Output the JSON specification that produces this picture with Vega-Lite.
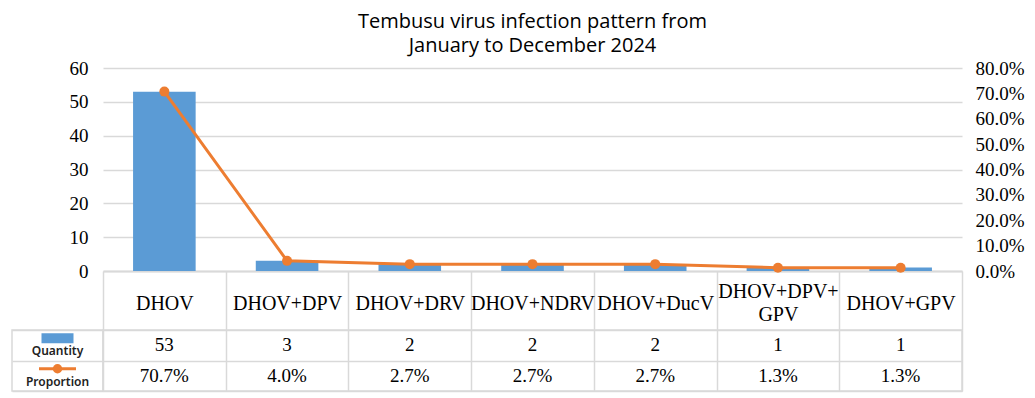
{
  "$schema": "https://vega.github.io/schema/vega-lite/v6.json",
  "padding": {"left": 11, "top": 12, "right": 5, "bottom": 4},
  "background": "white",
  "datasets": {
    "infection": [
      {"Pattern": "DHOV", "Quantity": 53, "Proportion": 0.707},
      {"Pattern": "DHOV+DPV", "Quantity": 3, "Proportion": 0.040},
      {"Pattern": "DHOV+DRV", "Quantity": 2, "Proportion": 0.027},
      {"Pattern": "DHOV+NDRV", "Quantity": 2, "Proportion": 0.027},
      {"Pattern": "DHOV+DucV", "Quantity": 2, "Proportion": 0.027},
      {"Pattern": "DHOV+DPV+GPV", "Quantity": 1, "Proportion": 0.013},
      {"Pattern": "DHOV+GPV", "Quantity": 1, "Proportion": 0.013}
    ],
    "series": [
      {"series": "Quantity"},
      {"series": "Proportion"}
    ]
  },
  "columns": 2,
  "spacing": {"row": 59, "column": 0},
  "bounds": "flush",
  "concat": [
    {
      "width": 91,
      "height": 203,
      "data": {"values": []},
      "mark": "point",
      "encoding": {}
    },
    {
      "width": 859,
      "height": 203,
      "title": {
        "text": ["Tembusu virus infection pattern from", "January to December 2024"],
        "font": "Open Sans",
        "fontSize": 20,
        "fontWeight": "normal",
        "color": "#000000",
        "lineHeight": 24,
        "anchor": "middle",
        "offset": 3
      },
      "data": {"name": "infection"},
      "encoding": {
        "x": {
          "field": "Pattern",
          "type": "nominal",
          "sort": null,
          "scale": {"paddingInner": 0, "paddingOuter": 0},
          "axis": {
            "title": null,
            "orient": "bottom",
            "domain": true,
            "domainColor": "#d9d9d9",
            "domainWidth": 2,
            "ticks": true,
            "tickBand": "extent",
            "tickSize": 59,
            "tickColor": "#d9d9d9",
            "tickWidth": 1.5,
            "grid": false,
            "labelAngle": 0,
            "labelFont": "Liberation Serif",
            "labelFontSize": 20,
            "labelColor": "#000000",
            "labelBaseline": "middle",
            "labelPadding": {"condition": {"test": "datum.value == 'DHOV+DPV+GPV'", "value": -39}, "value": -27},
            "labelOverlap": false,
            "labelLimit": 0,
            "labelBound": false,
            "labelFlush": false,
            "labelLineHeight": 23,
            "labelExpr": "datum.label == 'DHOV+DPV+GPV' ? ['DHOV+DPV+', 'GPV'] : datum.label"
          }
        }
      },
      "layer": [
        {
          "mark": {"type": "bar", "color": "#5b9bd5", "width": {"band": 0.51}},
          "encoding": {
            "y": {
              "field": "Quantity",
              "type": "quantitative",
              "scale": {"domain": [0, 60]},
              "axis": {
                "title": null,
                "orient": "left",
                "values": [0, 10, 20, 30, 40, 50, 60],
                "domain": false,
                "ticks": false,
                "grid": true,
                "gridColor": "#d9d9d9",
                "gridWidth": 1.5,
                "labelFont": "Liberation Serif",
                "labelFontSize": 19,
                "labelColor": "#000000",
                "labelPadding": 15
              }
            }
          }
        },
        {
          "encoding": {
            "y": {
              "field": "Proportion",
              "type": "quantitative",
              "scale": {"domain": [0, 0.8]},
              "axis": {
                "title": null,
                "orient": "right",
                "values": [0, 0.1, 0.2, 0.3, 0.4, 0.5, 0.6, 0.7, 0.8],
                "format": ".1%",
                "domain": false,
                "ticks": false,
                "grid": false,
                "labelFont": "Liberation Serif",
                "labelFontSize": 19,
                "labelColor": "#000000",
                "labelPadding": 13
              }
            }
          },
          "layer": [
            {"mark": {"type": "line", "color": "#ed7d31", "strokeWidth": 3}},
            {"mark": {"type": "point", "filled": true, "size": 100, "color": "#ed7d31", "opacity": 1}}
          ]
        }
      ],
      "resolve": {"scale": {"y": "independent"}, "axis": {"y": "independent"}}
    },
    {
      "width": 91,
      "height": 61,
      "view": {"stroke": "#d9d9d9", "strokeWidth": 1.5},
      "data": {"name": "series"},
      "encoding": {
        "y": {
          "field": "series",
          "type": "nominal",
          "sort": null,
          "scale": {"domain": ["Quantity", "Proportion"], "paddingInner": 0, "paddingOuter": 0},
          "axis": {
            "title": null,
            "labels": false,
            "ticks": false,
            "domain": false,
            "grid": true,
            "tickBand": "extent",
            "gridColor": "#d9d9d9",
            "gridWidth": 1.5
          }
        }
      },
      "layer": [
        {
          "mark": {"type": "text", "font": "Noto Sans", "fontSize": 12, "fontWeight": 600, "color": "#222222", "dy": 6},
          "encoding": {"text": {"field": "series"}}
        },
        {
          "transform": [{"filter": "datum.series == 'Quantity'"}],
          "mark": {"type": "point", "shape": "M-1,-0.31H1V0.31H-1Z", "size": 1024, "filled": true, "color": "#5b9bd5", "opacity": 1, "yOffset": -7},
          "encoding": {}
        },
        {
          "transform": [{"filter": "datum.series == 'Proportion'"}],
          "mark": {"type": "point", "shape": "stroke", "size": 1369, "filled": false, "stroke": "#ed7d31", "strokeWidth": 3, "opacity": 1, "yOffset": -7},
          "encoding": {}
        },
        {
          "transform": [{"filter": "datum.series == 'Proportion'"}],
          "mark": {"type": "point", "shape": "circle", "size": 90, "filled": true, "color": "#ed7d31", "opacity": 1, "yOffset": -7},
          "encoding": {}
        }
      ]
    },
    {
      "width": 859,
      "height": 61,
      "view": {"stroke": "#d9d9d9", "strokeWidth": 1.5},
      "data": {"name": "infection"},
      "encoding": {
        "x": {
          "field": "Pattern",
          "type": "nominal",
          "sort": null,
          "scale": {"paddingInner": 0, "paddingOuter": 0},
          "axis": {
            "title": null,
            "orient": "top",
            "labels": false,
            "ticks": false,
            "domain": false,
            "grid": true,
            "tickBand": "extent",
            "gridColor": "#d9d9d9",
            "gridWidth": 1.5
          }
        }
      },
      "layer": [
        {
          "mark": {"type": "text", "font": "Liberation Serif", "fontSize": 19, "color": "#000000"},
          "encoding": {
            "y": {
              "datum": "Quantity",
              "type": "nominal",
              "scale": {"domain": ["Quantity", "Proportion"], "paddingInner": 0, "paddingOuter": 0},
              "axis": {
                "title": null,
                "labels": false,
                "ticks": false,
                "domain": false,
                "grid": true,
                "tickBand": "extent",
                "gridColor": "#d9d9d9",
                "gridWidth": 1.5
              }
            },
            "text": {"field": "Quantity", "type": "quantitative"}
          }
        },
        {
          "mark": {"type": "text", "font": "Liberation Serif", "fontSize": 19, "color": "#000000"},
          "encoding": {
            "y": {"datum": "Proportion", "type": "nominal"},
            "text": {"field": "Proportion", "type": "quantitative", "format": ".1%"}
          }
        }
      ]
    }
  ],
  "config": {
    "view": {"stroke": null},
    "axis": {"labelFont": "Liberation Serif"}
  }
}
